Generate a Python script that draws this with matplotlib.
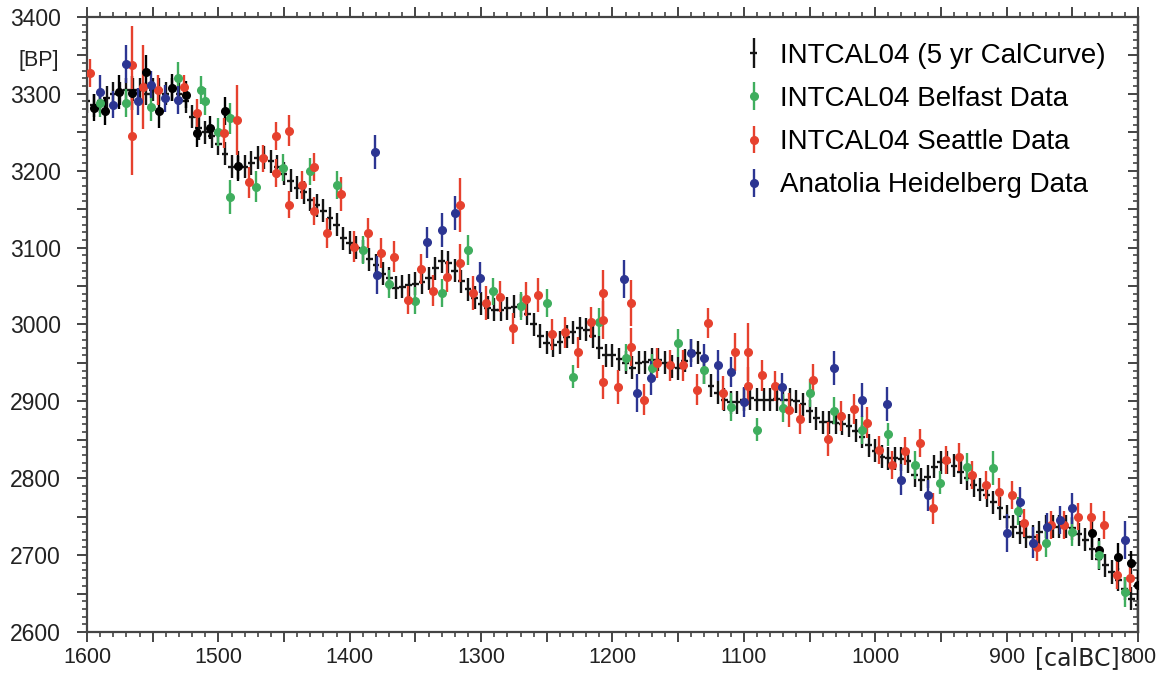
import numpy as np
import matplotlib.pyplot as plt
from matplotlib.ticker import MultipleLocator, FuncFormatter
from matplotlib.legend_handler import HandlerErrorbar

# INTCAL04 calibration curve, 5 yr steps from 1600 to 800 calBC
cal_years = np.arange(1600, 799, -5)
cal_bp = [
    3290, 3285, 3290, 3295, 3300, 3300, 3305, 3305, 3305, 3300,
    3305, 3305, 3300, 3305, 3300, 3290, 3270, 3255, 3250, 3245,
    3235, 3222, 3205, 3204, 3205, 3210, 3217, 3217, 3212, 3205,
    3196, 3187, 3178, 3172, 3162, 3155, 3148, 3138, 3130, 3112,
    3106, 3100, 3095, 3085, 3077, 3066, 3060, 3048, 3049, 3051,
    3053, 3055, 3060, 3073, 3082, 3080, 3070, 3056, 3046, 3035,
    3027, 3022, 3019, 3019, 3021, 3023, 3025, 3014, 3000, 2985,
    2976, 2973, 2977, 2984, 2990, 2995, 2993, 2985, 2970, 2960,
    2960, 2955, 2950, 2944, 2950, 2951, 2954, 2954, 2950, 2945,
    2943, 2953, 2966, 2963, 2938, 2920, 2911, 2902, 2899, 2899,
    2902, 2904, 2902, 2902, 2902, 2903, 2902, 2902, 2900, 2896,
    2887, 2878, 2873, 2873, 2872, 2871, 2868, 2862, 2854, 2843,
    2836, 2828, 2826, 2826, 2825, 2822, 2804, 2798, 2802, 2815,
    2821, 2821, 2816, 2808, 2800, 2791, 2785, 2778, 2769, 2761,
    2750, 2737, 2729, 2724, 2724, 2730, 2737, 2737, 2737, 2737,
    2735, 2727, 2720, 2708, 2695, 2687, 2678, 2668, 2656, 2643,
    2635,
]
cal_err = 15

# Seattle data (red)
sea_years = [1598, 1566, 1566, 1557, 1546, 1526, 1516, 1496, 1486, 1477,
             1466, 1456, 1456, 1446, 1446, 1436, 1427, 1427, 1417, 1407,
             1397, 1386, 1376, 1366, 1356, 1346, 1337, 1326, 1316, 1316,
             1306, 1296, 1286, 1276, 1266, 1257, 1246, 1236, 1226, 1216,
             1207, 1207, 1207, 1196, 1186, 1186, 1176, 1166, 1156, 1146,
             1136, 1127, 1116, 1107, 1097, 1097, 1086, 1076, 1066, 1057,
             1047, 1036, 1026, 1016, 1006, 997, 987, 977, 966, 956,
             946, 936, 926, 916, 906, 896, 887, 877, 866, 856,
             846, 836, 826, 816, 806]
sea_bp = [3327, 3338, 3245, 3309, 3305, 3309, 3275, 3249, 3266, 3185,
          3216, 3245, 3197, 3252, 3156, 3181, 3205, 3148, 3119, 3170,
          3101, 3119, 3093, 3088, 3032, 3072, 3044, 3062, 3155, 3080,
          3041, 3028, 3036, 2995, 3033, 3038, 2987, 2990, 2964, 3003,
          3041, 3006, 2925, 2919, 3028, 2971, 2902, 2950, 2947, 2947,
          2915, 3002, 2911, 2964, 2964, 2920, 2934, 2920, 2889, 2877,
          2928, 2851, 2881, 2890, 2872, 2837, 2817, 2835, 2846, 2761,
          2824, 2828, 2804, 2791, 2782, 2778, 2742, 2710, 2739, 2739,
          2750, 2750, 2739, 2674, 2670]
sea_err = [18, 50, 50, 55, 20, 15, 18, 20, 45, 20,
           18, 18, 18, 20, 18, 18, 18, 18, 20, 22,
           20, 20, 20, 20, 18, 20, 20, 20, 35, 25,
           22, 22, 20, 20, 22, 22, 20, 20, 20, 20,
           30, 25, 22, 22, 30, 25, 20, 20, 20, 20,
           20, 20, 22, 25, 38, 25, 20, 20, 22, 20,
           20, 22, 20, 20, 20, 18, 18, 18, 18, 20,
           18, 18, 18, 18, 18, 18, 18, 18, 18, 18,
           18, 18, 18, 18, 18]

# Belfast data (green)
bel_years = [1590, 1570, 1551, 1531, 1513, 1510, 1500, 1491, 1491, 1471,
             1451, 1430, 1410, 1390, 1370, 1350, 1330, 1310, 1291, 1270,
             1250, 1230, 1210, 1190, 1170, 1150, 1130, 1110, 1090, 1070,
             1050, 1031, 1010, 990, 970, 951, 930, 910, 891, 870,
             850, 830, 810]
bel_bp = [3288, 3288, 3283, 3321, 3305, 3290, 3250, 3268, 3166, 3179,
          3204, 3199, 3181, 3097, 3053, 3031, 3041, 3097, 3043, 3024,
          3028, 2932, 3003, 2957, 2943, 2976, 2941, 2893, 2863, 2891,
          2911, 2888, 2863, 2857, 2817, 2794, 2815, 2813, 2757, 2716,
          2730, 2700, 2652]
bel_err = [18, 18, 18, 20, 18, 18, 18, 20, 22, 20,
           18, 18, 18, 18, 18, 18, 18, 20, 18, 18,
           18, 15, 18, 18, 18, 18, 18, 18, 15, 18,
           18, 18, 18, 15, 18, 15, 18, 22, 18, 18,
           18, 18, 20]

# Anatolia Heidelberg data (blue)
hd_years = [1590, 1580, 1570, 1561, 1551, 1541, 1531, 1381, 1379, 1341,
            1330, 1320, 1301, 1191, 1181, 1171, 1140, 1130, 1120, 1110,
            1100, 1071, 1031, 1010, 991, 980, 960, 900, 890, 880,
            869, 859, 850, 810]
hd_bp = [3303, 3286, 3339, 3290, 3312, 3294, 3292, 3224, 3064, 3107,
         3123, 3145, 3061, 3059, 2911, 2930, 2963, 2956, 2947, 2938,
         2899, 2919, 2943, 2902, 2896, 2798, 2778, 2729, 2769, 2716,
         2737, 2746, 2761, 2720]
hd_err = [22, 18, 25, 18, 18, 18, 18, 22, 25, 20,
          22, 22, 20, 25, 25, 22, 18, 18, 20, 20,
          20, 18, 22, 22, 22, 20, 20, 25, 20, 20,
          18, 18, 20, 25]

# other black data points at both ends
blk_years = [1595, 1586, 1576, 1566, 1555, 1545, 1535, 1525, 1516, 1506,
             1495, 1485, 835, 830, 815, 805, 800]
blk_bp = [3282, 3278, 3302, 3301, 3328, 3278, 3308, 3299, 3249, 3256,
          3278, 3206, 2729, 2707, 2698, 2690, 2661]
blk_err = [18, 18, 22, 22, 22, 22, 18, 18, 18, 15,
           18, 20, 18, 15, 18, 15, 20]

plt.rcParams['font.family'] = ['Liberation Sans', 'DejaVu Sans']

fig = plt.figure(figsize=(11.6, 6.77), dpi=100)
ax = fig.add_axes([0.075, 0.0665, 0.906, 0.9085])

green = '#3fae5e'
red = '#e6412e'
blue = '#2c3592'

cal = ax.errorbar(cal_years, cal_bp, yerr=cal_err, xerr=2.6, fmt='none',
                  ecolor='#151515', elinewidth=1.7, capsize=0, zorder=2,
                  label='INTCAL04 (5 yr CalCurve)')
ax.errorbar(blk_years, blk_bp, yerr=blk_err, fmt='o', color='black',
            ms=5.5, elinewidth=1.7, capsize=0, zorder=3)
ax.errorbar(bel_years, bel_bp, yerr=bel_err, fmt='o', color=green,
            ms=5.5, elinewidth=1.7, capsize=0, zorder=3,
            label='INTCAL04 Belfast Data')
ax.errorbar(sea_years, sea_bp, yerr=sea_err, fmt='o', color=red,
            ms=5.5, elinewidth=1.7, capsize=0, zorder=3,
            label='INTCAL04 Seattle Data')
ax.errorbar(hd_years, hd_bp, yerr=hd_err, fmt='o', color=blue,
            ms=5.5, elinewidth=1.7, capsize=0, zorder=3,
            label='Anatolia Heidelberg Data')

ax.set_xlim(1600, 800)
ax.set_ylim(2600, 3400)

label100 = FuncFormatter(lambda v, p: '%d' % v if round(v) % 100 == 0 else '')
ax.xaxis.set_major_locator(MultipleLocator(50))
ax.xaxis.set_minor_locator(MultipleLocator(10))
ax.xaxis.set_major_formatter(label100)
ax.yaxis.set_major_locator(MultipleLocator(50))
ax.yaxis.set_minor_locator(MultipleLocator(10))
ax.yaxis.set_major_formatter(label100)

tick_col = '#444444'
ax.tick_params(axis='x', which='both', direction='out', top=True,
               colors=tick_col, labelcolor='#222222', labelsize=15.5, pad=4)
ax.tick_params(axis='y', which='both', direction='out', right=False,
               colors=tick_col, labelcolor='#222222', labelsize=16.5, pad=12)
ax.tick_params(which='major', length=7, width=1.4)
ax.tick_params(which='minor', length=3.6, width=1.2)

sec = ax.secondary_yaxis('right')
sec.yaxis.set_major_locator(MultipleLocator(50))
sec.yaxis.set_minor_locator(MultipleLocator(10))
sec.tick_params(which='both', direction='in', labelright=False, colors=tick_col)
sec.tick_params(which='major', length=7, width=1.4)
sec.tick_params(which='minor', length=3.6, width=1.2)
sec.spines['right'].set_color(tick_col)
sec.spines['right'].set_linewidth(1.6)

for s in ax.spines.values():
    s.set_color(tick_col)
    s.set_linewidth(1.6)

fig.text(0.016, 0.903, '[BP]', fontsize=15.5, color='#222222')
fig.text(0.892, 0.018, '[calBC]', fontsize=17, color='#222222',
         family=['DejaVu Sans'])

ax.legend(loc='upper right', bbox_to_anchor=(0.985, 0.985), frameon=False,
          fontsize=20, handlelength=0.5, handletextpad=0.7,
          labelspacing=0.62, borderaxespad=0.2,
          handler_map={cal: HandlerErrorbar(xerr_size=0.12, yerr_size=0.55)})

fig.savefig('out.png', dpi=100)
